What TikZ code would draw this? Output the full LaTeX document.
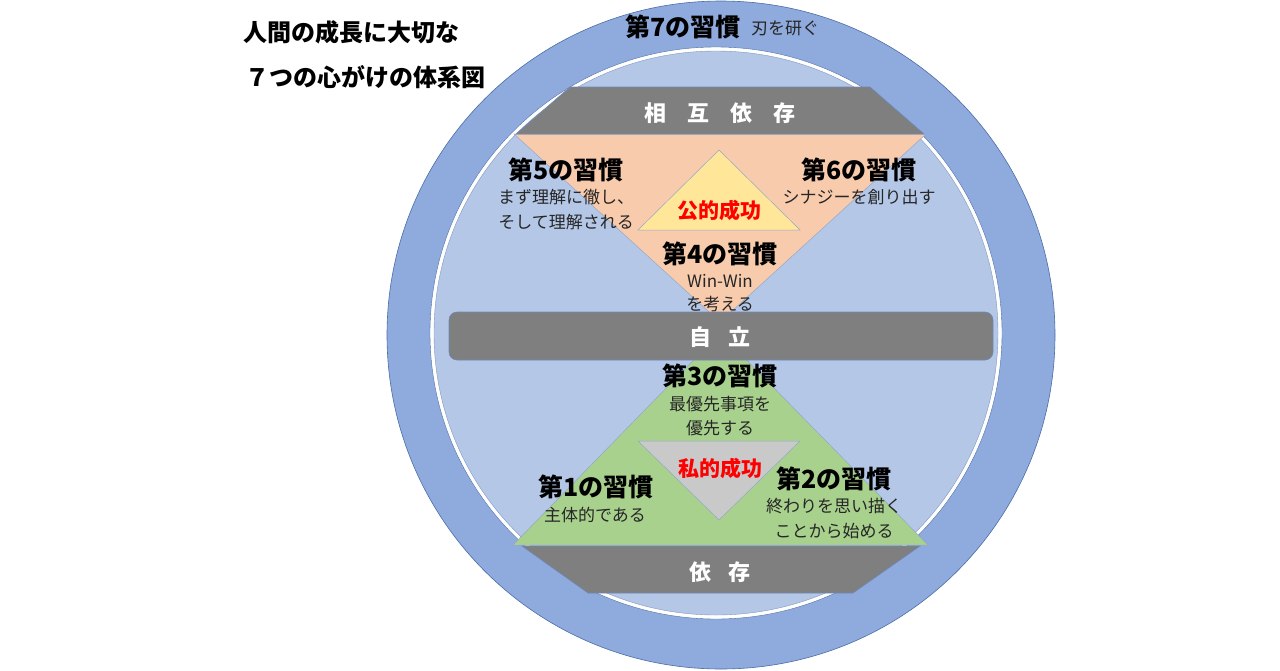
\documentclass[tikz,border=0pt]{standalone}
\usepackage{fontspec}
\setmainfont{Noto Sans CJK JP}
\usepackage{tikz}
\usetikzlibrary{shapes,calc}
\definecolor{ringblue}{HTML}{8FAADC}
\definecolor{innerblue}{HTML}{B4C7E7}
\definecolor{edgeblue}{HTML}{4A6DA7}
\definecolor{bargray}{HTML}{7F7F7F}
\definecolor{salmon}{HTML}{F8CBAD}
\definecolor{paleyellow}{HTML}{FFE699}
\definecolor{leafgreen}{HTML}{A9D18E}
\definecolor{trigray}{HTML}{C9C9C9}
\definecolor{inkred}{HTML}{FF0000}
\newcommand{\habitfont}{\fontsize{25}{29}\selectfont\bfseries}
\newcommand{\notefont}{\fontsize{17}{20}\selectfont}
\newcommand{\barfont}{\fontsize{22}{26}\selectfont\bfseries}
\newcommand{\titlefont}{\fontsize{24}{28}\selectfont\bfseries}
\newcommand{\successfont}{\fontsize{21}{24}\selectfont\bfseries}
\tikzstyle{ring}=[fill=ringblue,draw=edgeblue,line width=0.6pt]
\tikzstyle{tri}=[draw=edgeblue!60,line width=0.5pt]
\tikzstyle{bar}=[fill=bargray,draw=edgeblue!80,line width=0.6pt]
\tikzstyle{barlabel}=[text=white,font=\barfont,inner sep=0pt]
\tikzstyle{habit}=[font=\habitfont,inner sep=0pt]
\tikzstyle{note}=[font=\notefont,text=black!85,inner sep=0pt]
\tikzstyle{success}=[font=\successfont,text=inkred,inner sep=0pt]
\tikzstyle{title}=[font=\titlefont,anchor=west,inner sep=0pt]
\begin{document}
\begin{tikzpicture}[x=1pt,y=-1pt]
                    \useasboundingbox (0,0) rectangle (1280,670);

                    % circles
                    \draw[ring] (721,335) circle (334pt);
                    \draw[fill=white,draw=edgeblue] (716,333) circle (286pt);
                    \draw[fill=innerblue,draw=edgeblue!70] (716,333) circle (282pt);

                    % triangles
                    \draw[tri,fill=salmon] (514,134) -- (926,134) -- (720,322) -- cycle;
                    \draw[tri,fill=leafgreen] (513,545) -- (928,545) -- (720,333) -- cycle;
                    \draw[tri,fill=paleyellow] (638,230) -- (800,230) -- (719,150) -- cycle;
                    \draw[tri,fill=trigray] (638,441) -- (800,441) -- (719,520) -- cycle;

                    % bars
                    \draw[bar] (570,87) -- (870,87) -- (924,134) -- (516,134) -- cycle;
                    \draw[bar] (522,546) -- (920,546) -- (853,593) -- (588,593) -- cycle;

                    \node[title] (title1) at (243,32) {人間の成長に大切な};
                    \node[title] (title2) at (245,77) {７つの心がけの体系図};

                    \node[habit] (h7) at (683,27) {第7の習慣};
                    \node[note] (h7sub) at (785,28) {刃を研ぐ};

                    \node[habit] (h5) at (566,170) {第5の習慣};
                    \node[note] (h5a) at (566,197) {まず理解に徹し、};
                    \node[note] (h5b) at (566,222) {そして理解される};

                    \node[habit] (h6) at (859,170) {第6の習慣};
                    \node[note] (h6a) at (859,197) {シナジーを創り出す};

                    \node[success] (public) at (719,210) {公的成功};

                    \node[habit] (h4) at (720,254) {第4の習慣};
                    \node[note] (h4a) at (720,281) {Win-Win};
                    \node[note] (h4b) at (720,304) {を考える};

                    \draw[bar,rounded corners=8pt] (449,312) rectangle (993,360);

                    \node[habit] (h3) at (720,376) {第3の習慣};
                    \node[note] (h3a) at (720,404) {最優先事項を};
                    \node[note] (h3b) at (720,428) {優先する};

                    \node[success] (private) at (720,468) {私的成功};

                    \node[habit] (h1) at (596,487) {第1の習慣};
                    \node[note] (h1a) at (595,515) {主体的である};

                    \node[habit] (h2) at (834,479) {第2の習慣};
                    \node[note] (h2a) at (834,506) {終わりを思い描く};
                    \node[note] (h2b) at (834,531) {ことから始める};

                    \node[barlabel] (inter) at (720,113) {相\hspace{0.95em}互\hspace{0.95em}依\hspace{0.95em}存};
                    \node[barlabel] (indep) at (720,337) {自\hspace{0.8em}立};
                    \node[barlabel] (dep) at (720,572) {依\hspace{0.8em}存};
                \end{tikzpicture}
\end{document}
